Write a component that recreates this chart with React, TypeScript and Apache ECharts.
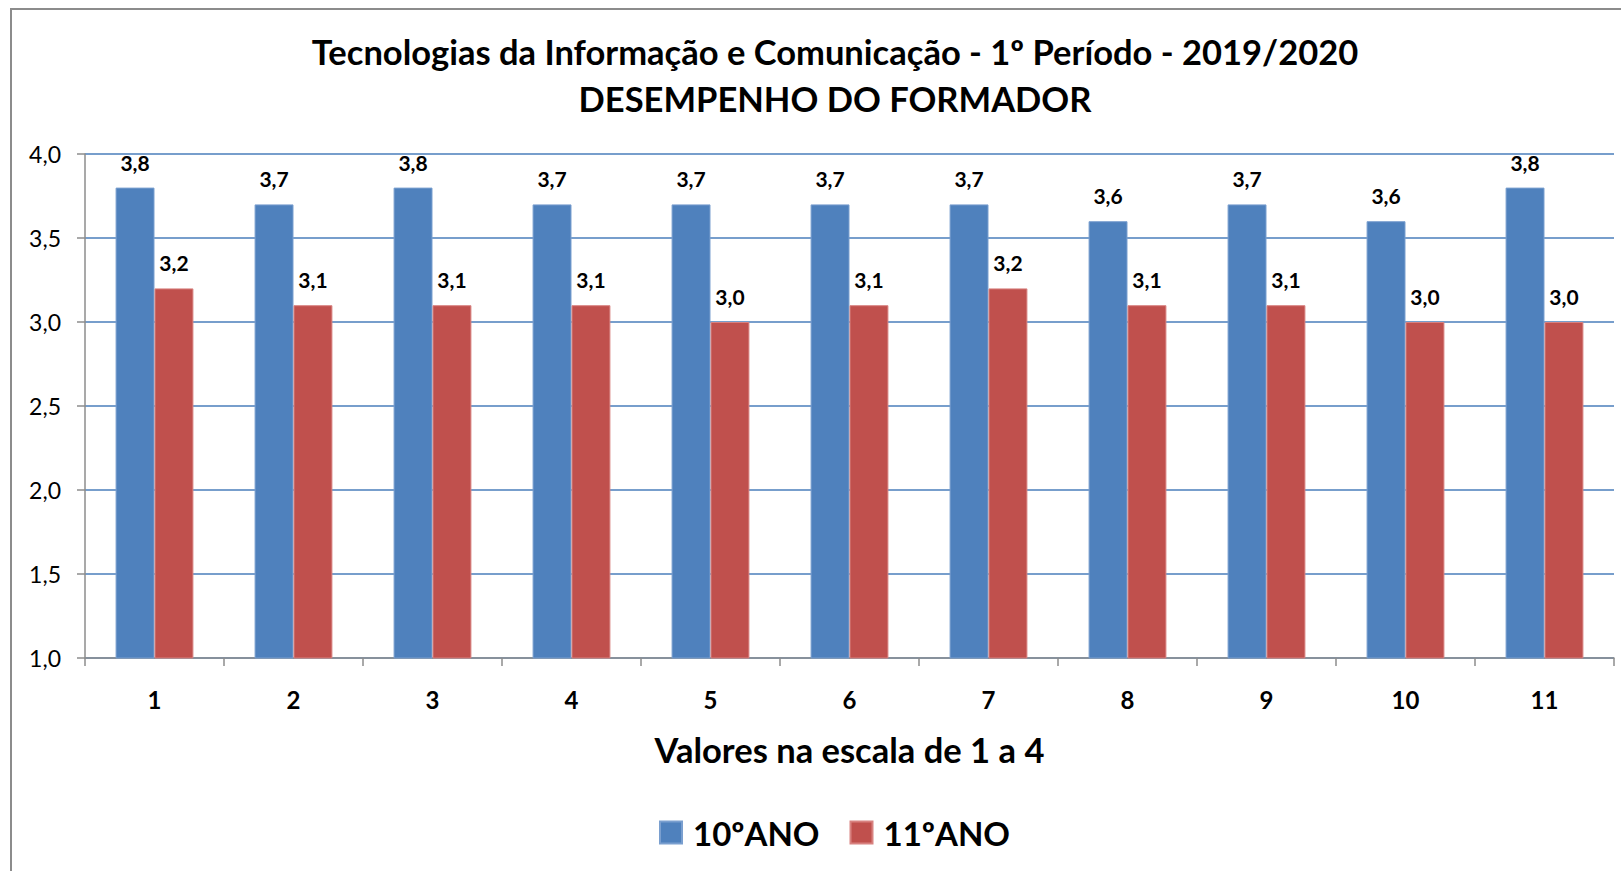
import React, { useEffect, useRef } from "react";
import * as echarts from "echarts";

const categories = ["1", "2", "3", "4", "5", "6", "7", "8", "9", "10", "11"];
const ano10 = [3.8, 3.7, 3.8, 3.7, 3.7, 3.7, 3.7, 3.6, 3.7, 3.6, 3.8];
const ano11 = [3.2, 3.1, 3.1, 3.1, 3.0, 3.1, 3.2, 3.1, 3.1, 3.0, 3.0];
const seriesNames = ["10ºANO", "11ºANO"];
const titleText = "Tecnologias da Informação e Comunicação - 1º Período - 2019/2020\nDESEMPENHO DO FORMADOR";
const xAxisName = "Valores na escala de 1 a 4";

const FONT = "Lato, 'Noto Sans', sans-serif";
const fmt = (v: number) => v.toFixed(1).replace(".", ",");

export default function App() {
  const ref = useRef<HTMLDivElement>(null);
  useEffect(() => {
    if (!ref.current) return;
    const chart = echarts.init(ref.current, undefined, { renderer: "svg" });
    const labelStyle = {
      show: true,
      position: "top" as const,
      distance: 15,
      fontFamily: FONT,
      fontWeight: "bold" as const,
      fontSize: 21,
      color: "#000",
      formatter: (p: any) => fmt(p.value),
    };
    chart.setOption({
      animation: false,
      backgroundColor: "#fff",
      textStyle: { fontFamily: FONT },
      graphic: [
        {
          type: "rect",
          shape: { x: 11, y: 9, width: 1700, height: 1000 },
          style: { fill: "none", stroke: "#8c8c8c", lineWidth: 2 },
          silent: true,
          z: -1,
        },
      ],
      title: {
        text: titleText,
        left: 830,
        top: 23,
        textAlign: "center",
        textStyle: {
          fontFamily: FONT,
          fontWeight: "bold",
          fontSize: 34.5,
          lineHeight: 47,
          color: "#000",
        },
      },
      legend: {
        data: seriesNames,
        left: 654,
        top: 811,
        itemWidth: 22,
        itemHeight: 22,
        itemGap: 30,
        icon: "rect",
        textStyle: {
          fontFamily: FONT,
          fontWeight: "bold",
          fontSize: 33,
          color: "#000",
          padding: [0, 0, 0, 6],
        },
      },
      grid: { left: 85, top: 154, right: 7, bottom: 213, containLabel: false },
      xAxis: {
        type: "category",
        data: categories,
        name: xAxisName,
        nameLocation: "middle",
        nameGap: 74,
        nameTextStyle: {
          fontFamily: FONT,
          fontWeight: "bold",
          fontSize: 34.5,
          color: "#000",
        },
        axisLine: { show: true, lineStyle: { color: "#8c8c8c", width: 1.5 } },
        axisTick: { show: true, alignWithLabel: false, length: 8, lineStyle: { color: "#8c8c8c", width: 1.5 } },
        axisLabel: {
          fontFamily: FONT,
          fontWeight: "bold",
          fontSize: 24,
          color: "#000",
          margin: 29,
        },
        splitLine: { show: false },
      },
      yAxis: {
        type: "value",
        min: 1,
        max: 4,
        interval: 0.5,
        axisLine: { show: true, lineStyle: { color: "#8c8c8c", width: 1.5 } },
        axisTick: { show: true, length: 8, lineStyle: { color: "#8c8c8c", width: 1.5 } },
        axisLabel: {
          fontFamily: FONT,
          fontSize: 23,
          color: "#000",
          margin: 24,
          formatter: (v: number) => fmt(v),
        },
        splitLine: { show: true, lineStyle: { color: "#4a7ebb", width: 1.5 } },
      },
      series: [
        {
          name: seriesNames[0],
          type: "bar",
          data: ano10,
          barGap: "0%",
          barCategoryGap: "44%",
          itemStyle: { color: "#4f81bd", borderColor: "#7a9fcf", borderWidth: 1 },
          label: labelStyle,
        },
        {
          name: seriesNames[1],
          type: "bar",
          data: ano11,
          itemStyle: { color: "#c0504d", borderColor: "#d88280", borderWidth: 1 },
          label: labelStyle,
        },
      ],
    });
    return () => chart.dispose();
  }, []);
  return (
    <div
      ref={ref}
      style={{ position: "fixed", left: 0, top: 0, width: 1621, height: 871 }}
    />
  );
}
